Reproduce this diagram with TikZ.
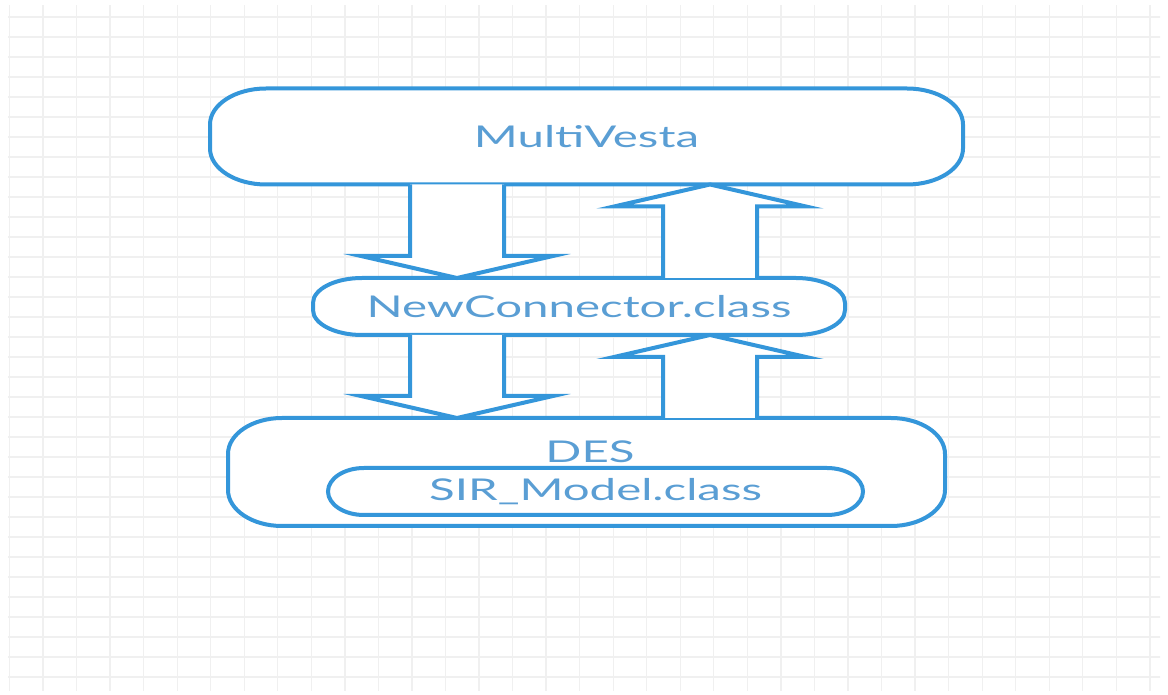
\documentclass[tikz,border=0pt]{standalone}
\usepackage{fontspec}
\setmainfont{Lato}[FakeStretch=1.58]
\usetikzlibrary{calc,positioning}
\definecolor{flowblue}{RGB}{52,150,218}
\definecolor{textblue}{RGB}{90,158,212}
\definecolor{gridgray}{RGB}{240,240,240}
\pgfdeclarelayer{shell}
\pgfsetlayers{shell,main}
% outline with elliptic corners round a node: name, x radius, y radius
\newcommand{\shell}[3]{%
	\draw[outline] ($(#1.north west)+(#2,0)$) -- ($(#1.north east)-(#2,0)$)
		arc[start angle=90,end angle=0,x radius=#2,y radius=#3]
		-- ($(#1.south east)+(0,#3)$)
		arc[start angle=0,end angle=-90,x radius=#2,y radius=#3]
		-- ($(#1.south west)+(#2,0)$)
		arc[start angle=270,end angle=180,x radius=#2,y radius=#3]
		-- ($(#1.north west)-(0,#3)$)
		arc[start angle=180,end angle=90,x radius=#2,y radius=#3] -- cycle;}
% hollow block arrow: shaft start, tip
\newcommand{\blockarrow}[2]{%
	\draw[flow] let \p1=(#1), \p2=(#2), \n1={22*sign(\y1-\y2)} in
		(\x1-47pt,\y1) -- (\x1-47pt,\y2+\n1) -- (\x1-96pt,\y2+\n1) -- (\x2,\y2)
		-- (\x1+96pt,\y2+\n1) -- (\x1+47pt,\y2+\n1) -- (\x1+47pt,\y1);}

\begin{document}
\begin{tikzpicture}[x=1pt,y=1pt,
		box/.style={inner sep=0pt,outer sep=0pt,text=textblue,font=\fontsize{30}{34}\selectfont},
		outline/.style={draw=flowblue,line width=4pt,fill=white},
		flow/.style={draw=flowblue,line width=4pt,fill=white,line join=miter}]
	\useasboundingbox (0,0) rectangle (1168,694);

	\node[box,minimum width=753pt,minimum height=96pt] (mv) at (586.5,557.5) {MultiVesta};
	\node[box,minimum width=532pt,minimum height=57pt] (nc) at (579,387.5) {NewConnector.class};
	\node[box,minimum width=717pt,minimum height=108pt] (des) at (586.5,222) {};
	\node[box] (deslbl) at (590,242) {DES};
	\node[box,minimum width=535pt,minimum height=47pt] (sir) at (595.5,202.5) {SIR\_Model.class};

	\begin{pgfonlayer}{shell}
		\begin{scope}
			\clip (8,4) rectangle (1160,688);
			\foreach \gx in {0,...,34}
				\draw[gridgray,line width=1.3pt] (9.5+33.54*\gx,0) -- ++(0,694);
			\foreach \gy in {0,...,34}
				\draw[gridgray,line width=1.3pt] (0,677-20*\gy) -- ++(1168,0);
		\end{scope}
		\shell{mv}{56pt}{36pt}
		\shell{nc}{49pt}{25pt}
		\shell{des}{54pt}{36pt}
		\shell{sir}{36pt}{23.5pt}
	\end{pgfonlayer}

	\coordinate (down) at (457,0);
	\coordinate (up) at (710,0);
	\blockarrow{down |- mv.south}{down |- nc.north}
	\blockarrow{up |- nc.north}{up |- mv.south}
	\blockarrow{down |- nc.south}{down |- des.north}
	\blockarrow{up |- des.north}{up |- nc.south}
\end{tikzpicture}
\end{document}
